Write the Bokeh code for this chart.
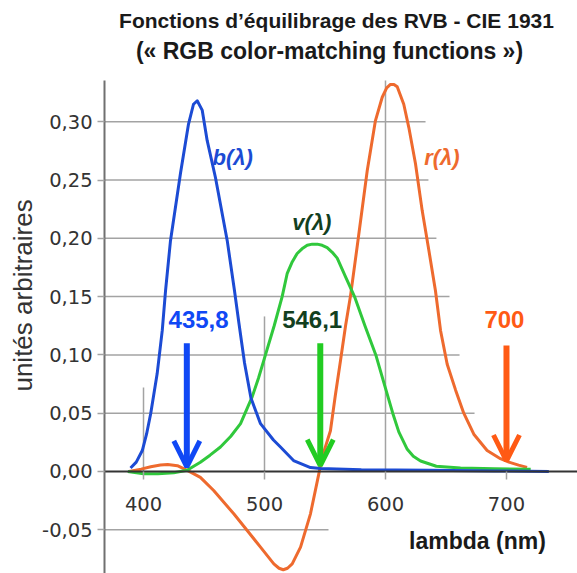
import math
from bokeh.plotting import figure
from bokeh.models import (Range1d, FixedTicker, CustomJSTickFormatter, Arrow, OpenHead,
                          Label, ColumnDataSource)
from bokeh.core.properties import value
from bokeh.embed import file_html
from bokeh.resources import INLINE

# ---------------- data ----------------
b_nm = [389.3, 394, 399, 402.5, 406, 411.3, 415.5, 418.2, 422.3, 430.6, 437.2, 441.3, 444.4,
        448.5, 452.6, 459.5, 469.2, 475.2, 478.9, 483.5, 488.8, 496.7, 507.4, 513.2, 524.0,
        538.0, 546.3, 580, 637, 690, 735]
b_val = [0.003, 0.008, 0.018, 0.032, 0.050, 0.084, 0.121, 0.155, 0.198, 0.256, 0.298, 0.315, 0.318,
         0.310, 0.284, 0.252, 0.198, 0.155, 0.127, 0.093, 0.063, 0.041, 0.027, 0.021, 0.0094,
         0.0034, 0.0026, 0.0015, 0.001, 0.0005, 0.0]

v_nm = [387, 400, 412, 425, 436, 447, 455, 463.6, 472, 480.2, 489.8, 495, 500.8, 508, 514.6,
        518.8, 523, 527, 531, 535.3, 539.5, 543.6, 547.7, 551.8, 556, 560.1, 567, 574.4, 583,
        592, 599, 606, 611, 618, 623, 629, 642, 662, 690, 720]
v_val = [0.0, -0.002, -0.002, -0.001, 0.001, 0.008, 0.014, 0.021, 0.030, 0.041, 0.064, 0.080,
         0.100, 0.125, 0.150, 0.170, 0.180, 0.187, 0.191, 0.194, 0.195, 0.195, 0.194, 0.192,
         0.188, 0.183, 0.167, 0.150, 0.125, 0.100, 0.075, 0.050, 0.034, 0.019, 0.013, 0.009,
         0.0045, 0.003, 0.0023, 0.002]

r_nm = [388, 398, 406, 414, 420, 428, 437.4, 447, 458, 474.6, 485.7, 496.7, 507.7, 512, 515.5,
        519, 522.9, 529.8, 538, 544.9, 547.7, 554.5, 558.5, 562.8, 567, 571, 576.6, 584.9, 591.7,
        597.3, 601, 604.1, 607, 609.7, 615.1, 619.3, 624.8, 630.3, 635.8, 641.3, 645.5, 651,
        657.9, 664.7, 673, 684, 695, 702, 710, 717]
r_val = [0.0, 0.002, 0.004, 0.0055, 0.006, 0.005, 0.0003, -0.005, -0.0163, -0.0363, -0.0506,
         -0.0649, -0.0792, -0.0830, -0.0843, -0.0830, -0.0792, -0.0649, -0.0363, -0.002, 0.0123,
         0.035, 0.065, 0.095, 0.125, 0.150, 0.193, 0.258, 0.301, 0.321, 0.329, 0.332, 0.332,
         0.330, 0.315, 0.295, 0.264, 0.224, 0.190, 0.155, 0.121, 0.092, 0.070, 0.050, 0.032,
         0.018, 0.011, 0.008, 0.0055, 0.0035]

curve_names = ["b(λ)", "v(λ)", "r(λ)"]
curve_label_nm = [457, 523, 632]
curve_label_val = [0.269, 0.2135, 0.269]

arrow_nm = [435.8, 546.1, 700.0]
arrow_tip = [0.004, 0.005, 0.009]
arrow_top = [0.110, 0.110, 0.108]
arrow_labels = ["435,8", "546,1", "700"]
arrow_label_nm = [445.5, 539.4, 698.3]
arrow_label_val = [0.130, 0.130, 0.130]

x_ticks = [400, 500, 600, 700]
y_ticks = [-0.05, 0.0, 0.05, 0.10, 0.15, 0.20, 0.25, 0.30]

title_line1 = "Fonctions d’équilibrage des RVB - CIE 1931"
title_line2 = "(« RGB color-matching functions »)"
x_title = "lambda (nm)"
y_title = "unités arbitraires"

# partial grid lines of the original figure
hgrid_val = [0.30, 0.25, 0.20, 0.15, 0.10, 0.05, -0.05]
hgrid_end_nm = [633.1, 635.5, 642.1, 652.9, 661.2, 673.6, 552.9]
vgrid_nm = [400, 500, 600]
vgrid_top = [0.072, 0.133, 0.3353]

# ---------------- styles / layout ----------------
BLUE, GREEN, RED = "#1c4bd4", "#30c83c", "#ee6a2e"
ARROW_BLUE, ARROW_GREEN, ARROW_RED = "#1048f5", "#22cc22", "#ff5a14"
DARK_GREEN = "#133f1f"
GRID = "#a3a3a3"
SANS = "Liberation Sans"

# the frame covers the whole page; the axes sit at fixed data locations
X0, X1 = 281.8, 758.7
Y0, Y1 = -0.0875, 0.404
AXIS_X = 367.8          # where the vertical axis stands
AXIS_TOP = 0.3353       # top end of the vertical axis

p = figure(width=577, height=573, output_backend="svg", toolbar_location=None,
           x_range=Range1d(X0, X1), y_range=Range1d(Y0, Y1),
           min_border_left=0, min_border_right=0, min_border_top=0, min_border_bottom=0,
           background_fill_color="white", border_fill_color="white")
p.outline_line_color = None
p.xgrid.visible = False
p.ygrid.visible = False

# grid lines
p.segment(x0=[AXIS_X] * len(hgrid_val), y0=hgrid_val, x1=hgrid_end_nm, y1=hgrid_val,
          line_color=GRID, line_width=1.5)
p.segment(x0=vgrid_nm, y0=[0] * len(vgrid_nm), x1=vgrid_nm, y1=vgrid_top,
          line_color=GRID, line_width=1.5)

# axes
ya = p.yaxis[0]
ya.fixed_location = AXIS_X
ya.bounds = (Y0, AXIS_TOP)
ya.ticker = FixedTicker(ticks=y_ticks)
ya.formatter = CustomJSTickFormatter(code="return tick.toFixed(2).replace('.', ',')")
ya.major_label_text_font = "DejaVu Sans"
ya.major_label_text_font_size = "19.5px"
ya.major_label_text_color = "#333333"
ya.axis_line_color = "#707070"
ya.axis_line_width = 2
ya.major_tick_line_color = GRID
ya.major_tick_line_width = 1.5
ya.major_tick_out = 7
ya.major_tick_in = 0
ya.minor_tick_line_color = None
ya.major_label_standoff = 5

xa = p.xaxis[0]
xa.fixed_location = 0
xa.bounds = (AXIS_X, X1)
xa.ticker = FixedTicker(ticks=x_ticks)
xa.major_label_text_font = "DejaVu Sans"
xa.major_label_text_font_size = "19.5px"
xa.major_label_text_color = "#333333"
xa.axis_line_color = "#333333"
xa.axis_line_width = 2
xa.major_tick_line_color = GRID
xa.major_tick_line_width = 1.5
xa.major_tick_out = 8
xa.major_tick_in = 0
xa.minor_tick_line_color = None
xa.major_label_standoff = 18

# curves
p.line(r_nm, r_val, line_color=RED, line_width=3, line_join="round")
p.line(v_nm, v_val, line_color=GREEN, line_width=3, line_join="round")
p.line(b_nm, b_val, line_color=BLUE, line_width=3, line_join="round")

# curve names
lab_src = ColumnDataSource(dict(x=curve_label_nm, y=curve_label_val, t=curve_names,
                                c=[BLUE, DARK_GREEN, RED]))
p.text(x="x", y="y", text="t", source=lab_src, text_color="c",
       text_font=value(SANS), text_font_size="22px", text_font_style="bold italic",
       text_align="left", text_baseline="middle")

# arrows
for nm, tip, top, col in zip(arrow_nm, arrow_tip, arrow_top, [ARROW_BLUE, ARROW_GREEN, ARROW_RED]):
    p.add_layout(Arrow(x_start=nm, y_start=top, x_end=nm, y_end=tip,
                       line_color=col, line_width=6,
                       end=OpenHead(size=26, line_color=col, line_width=5)))

al_src = ColumnDataSource(dict(x=arrow_label_nm, y=arrow_label_val, t=arrow_labels,
                               c=[ARROW_BLUE, DARK_GREEN, ARROW_RED]))
p.text(x="x", y="y", text="t", source=al_src, text_color="c",
       text_font=value(SANS), text_font_size="24px", text_font_style="bold",
       text_align="center", text_baseline="middle")

# titles
p.add_layout(Label(x=559.5, y=0.3868, text=title_line1, text_font=SANS, text_font_size="21px",
                   text_font_style="bold", text_color="#1a1a1a",
                   text_align="center", text_baseline="middle"))
p.add_layout(Label(x=553.7, y=0.361, text=title_line2, text_font=SANS, text_font_size="23px",
                   text_font_style="bold", text_color="#1a1a1a",
                   text_align="center", text_baseline="middle"))
p.add_layout(Label(x=676, y=-0.060, text=x_title, text_font=SANS, text_font_size="23px",
                   text_font_style="bold", text_color="#1a1a1a",
                   text_align="center", text_baseline="middle"))
p.add_layout(Label(x=300, y=0.151, text=y_title, angle=math.pi / 2,
                   text_font=SANS, text_font_size="26px", text_color="#333333",
                   text_align="center", text_baseline="middle"))

open("out.html", "w").write(file_html(p, INLINE))
